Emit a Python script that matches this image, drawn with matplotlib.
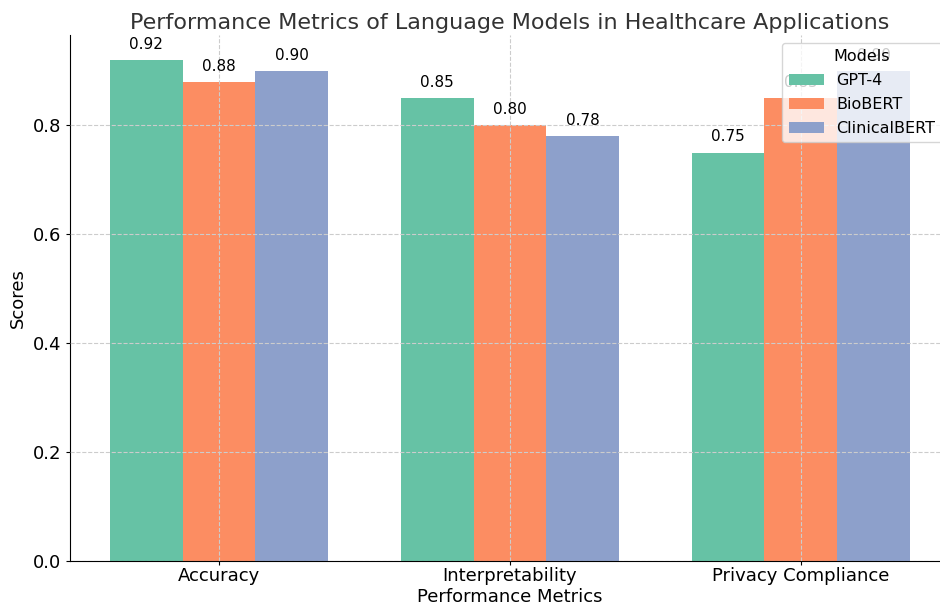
import numpy as np
import matplotlib
matplotlib.use('Agg')
import matplotlib.pyplot as plt

metrics = ['Accuracy', 'Interpretability', 'Privacy Compliance']
models = ['GPT-4', 'BioBERT', 'ClinicalBERT']
gpt4 = [0.92, 0.85, 0.75]
biobert = [0.88, 0.80, 0.85]
clinicalbert = [0.90, 0.78, 0.90]
colors = ['#66c2a5', '#fc8d62', '#8da0cb']

plt.rcParams['font.family'] = 'DejaVu Sans'

fig = plt.figure(figsize=(9.4, 6.1), dpi=100)
ax = fig.add_axes([0.0745, 0.0803, 0.936, 0.8623])

x = np.arange(len(metrics))
w = 0.25
for i, (vals, name) in enumerate(zip([gpt4, biobert, clinicalbert], models)):
    bars = ax.bar(x + (i - 1) * w, vals, w, label=name, color=colors[i])
    for b in bars:
        ax.annotate('%.2f' % b.get_height(),
                    (b.get_x() + b.get_width() / 2, b.get_height()),
                    xytext=(0, 6), textcoords='offset points',
                    ha='center', va='bottom', fontsize=11)

ax.set_xticks(x)
ax.set_xticklabels(metrics, fontsize=13)
ax.tick_params(axis='x', pad=1.5, length=3)
ax.tick_params(axis='y', labelsize=13, length=3)
ax.set_xlabel('Performance Metrics', fontsize=13, labelpad=2)
ax.set_ylabel('Scores', fontsize=13)
ax.set_title('Performance Metrics of Language Models in Healthcare Applications',
             fontsize=16, color='#333333', pad=4)
ax.grid(True, linestyle='--', color='#cccccc', linewidth=0.8)
ax.set_axisbelow(False)
for s in ['top', 'right']:
    ax.spines[s].set_visible(False)
ax.legend(title='Models', loc='upper right', fontsize=11.5, title_fontsize=11.5,
          handlelength=2.2, labelspacing=0.55)

plt.savefig('out.png', dpi=100)
